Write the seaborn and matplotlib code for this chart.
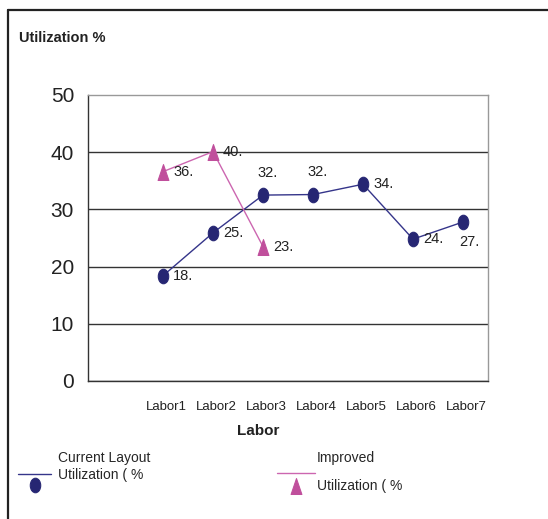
import numpy as np
import pandas as pd
import matplotlib
matplotlib.use("Agg")
import matplotlib.pyplot as plt
import seaborn as sns
from matplotlib.path import Path
from matplotlib.lines import Line2D
from matplotlib.transforms import ScaledTranslation, Affine2D
from matplotlib.legend_handler import HandlerLine2DCompound

# ---------------- data ----------------
categories = ["", "Labor1", "Labor2", "Labor3", "Labor4", "Labor5", "Labor6", "Labor7"]
current_labors = ["Labor1", "Labor2", "Labor3", "Labor4", "Labor5", "Labor6", "Labor7"]
current_values = [18.4, 25.9, 32.5, 32.6, 34.4, 24.8, 27.8]
current_labels = ["18.", "25.", "32.", "32.", "34.", "24.", "27."]
current_label_side = ["right", "right", "above", "above", "right", "right", "below"]
improved_labors = ["Labor1", "Labor2", "Labor3"]
improved_values = [36.6, 40.1, 23.5]
improved_labels = ["36.", "40.", "23."]
improved_label_side = ["right", "right", "right"]
y_ticks = [0, 10, 20, 30, 40, 50]
series_names = ["Current Layout\nUtilization ( %", "Improved\nUtilization ( %"]

# ---------------- style ----------------
sns.set_style("white")
plt.rcParams["font.family"] = ["Liberation Sans", "DejaVu Sans"]

W, H = 548, 519
fig = plt.figure(figsize=(W / 100, H / 100), dpi=100)
ax = fig.add_axes([88 / W, 1 - 381 / H, 400 / W, 286 / H])

navy = "#262673"
navy_line = "#35358a"
pink = "#c04f9c"
pink_line = "#cc66b0"

ellipse = Path.unit_circle().transformed(Affine2D().scale(0.72, 1.0))
tri = Path([(0, 1), (-0.68, -1), (0.68, -1), (0, 1)],
           [Path.MOVETO, Path.LINETO, Path.LINETO, Path.CLOSEPOLY])

pos = {c: i for i, c in enumerate(categories)}
df_cur = pd.DataFrame({"x": [pos[c] for c in current_labors], "y": current_values})
df_imp = pd.DataFrame({"x": [pos[c] for c in improved_labors], "y": improved_values})

sns.lineplot(data=df_cur, x="x", y="y", ax=ax, color=navy_line, lw=1,
             marker=ellipse, markersize=10.5, markerfacecolor=navy,
             markeredgecolor=navy, legend=False, zorder=3)
sns.lineplot(data=df_imp, x="x", y="y", ax=ax, color=pink_line, lw=1,
             marker=tri, markersize=11.5, markerfacecolor=pink,
             markeredgecolor=pink, legend=False, zorder=3)
h_cur, h_imp = ax.get_lines()[0], ax.get_lines()[1]

# data labels
def add_labels(df, labels, sides):
    for (x, y), t, s in zip(df[["x", "y"]].values, labels, sides):
        if s == "right":
            off, ha = (7.2, 0), "left"
        elif s == "above":
            off, ha = (3.5, 16), "center"
        else:
            off, ha = (4.5, -14.4), "center"
        ax.annotate(t, (x, y), xytext=off, textcoords="offset points",
                    ha=ha, va="center", fontsize=10.5, color="#222222", zorder=4)

add_labels(df_cur, current_labels, current_label_side)
add_labels(df_imp, improved_labels, improved_label_side)

# axes
ax.set_xlim(-0.5, len(categories) - 0.5)
ax.set_ylim(0, 50)
ax.set_yticks(y_ticks)
ax.set_yticklabels([str(v) for v in y_ticks], fontsize=15, color="#222222")
ax.set_xticks(range(len(categories)))
ax.set_xticklabels(categories, fontsize=9.5, color="#222222")
ax.set_xticks(np.arange(-0.5, len(categories), 1), minor=True)
ax.tick_params(axis="x", which="major", length=0, pad=14.5)
ax.tick_params(axis="x", which="minor", length=4, width=1, color="#333333", direction="out")
ax.tick_params(axis="y", which="major", length=4, width=1, color="#333333", direction="out", pad=6)
for lbl in ax.get_xticklabels():
    lbl.set_transform(lbl.get_transform() + ScaledTranslation(3.5 / 100, 0, fig.dpi_scale_trans))

ax.yaxis.grid(True, color="#333333", lw=1)
ax.xaxis.grid(False)
ax.set_axisbelow(True)
for gl in ax.get_ygridlines()[-1:]:
    gl.set_visible(False)
for s in ["left", "bottom"]:
    ax.spines[s].set_color("#333333")
    ax.spines[s].set_linewidth(1)
for s in ["top", "right"]:
    ax.spines[s].set_color("#999999")
    ax.spines[s].set_linewidth(1)
    ax.spines[s].set_visible(True)

ax.set_ylabel("")
ax.set_xlabel("Labor", fontsize=11, fontweight="bold", color="#222222")
ax.xaxis.set_label_coords(0.425, -49.7 / 286)
ax.xaxis.label.set_va("center")

fig.text(19 / W, 1 - 38 / H, "Utilization %", fontsize=10.5, fontweight="bold",
         ha="left", va="center", color="#222222")


# legend handler: line and marker shifted downward (Excel-style legend key)
class OffsetHandler(HandlerLine2DCompound):
    def __init__(self, dy_line, dy_marker, **kw):
        super().__init__(**kw)
        self.dy_line = dy_line
        self.dy_marker = dy_marker

    def create_artists(self, legend, orig_handle, xdescent, ydescent, width,
                       height, fontsize, trans):
        arts = super().create_artists(legend, orig_handle, xdescent, ydescent,
                                      width, height, fontsize, trans)
        line, marker = arts[0], arts[1]
        line.set_ydata(np.asarray(line.get_ydata()) - self.dy_line)
        marker.set_ydata(np.asarray(marker.get_ydata()) - self.dy_marker)
        return arts


leg1 = fig.legend(handles=[h_cur], labels=[series_names[0]], loc="upper left",
                  bbox_to_anchor=(18 / W, 1 - 451 / H), frameon=False, fontsize=10,
                  handlelength=2.4, handletextpad=0.5, borderpad=0, borderaxespad=0,
                  handler_map={h_cur: OffsetHandler(5.0, 12.9)})
leg2 = fig.legend(handles=[h_imp], labels=[series_names[1]], loc="upper left",
                  bbox_to_anchor=(277 / W, 1 - 451 / H), frameon=False, fontsize=10,
                  handlelength=2.75, handletextpad=0.1, borderpad=0, borderaxespad=0,
                  handler_map={h_imp: OffsetHandler(0.0, 9.4)})
leg1.get_texts()[0].set_linespacing(1.3)
leg2.get_texts()[0].set_linespacing(2.3)

# outer frame (top and left edges visible)
fig.add_artist(Line2D([7.5 / W, 1], [1 - 10 / H] * 2, transform=fig.transFigure,
                      color="#222222", lw=1.6))
fig.add_artist(Line2D([7.5 / W] * 2, [0, 1 - 10 / H], transform=fig.transFigure,
                      color="#222222", lw=1.6))

fig.savefig("out.png", dpi=100)
